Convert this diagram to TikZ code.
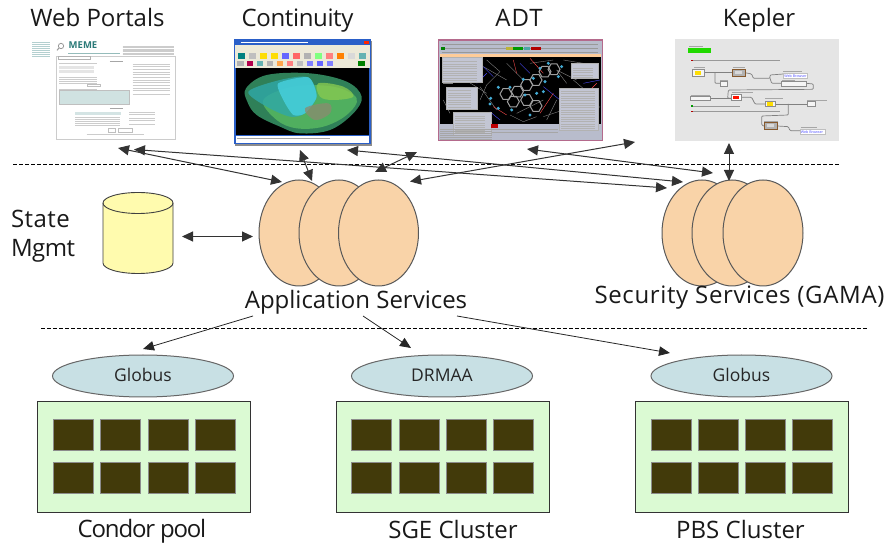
\documentclass[tikz,border=0pt]{standalone}
\usepackage{fontspec}
\setmainfont{Open Sans}
\usetikzlibrary{arrows.meta,shapes.geometric}
\definecolor{peach}{HTML}{F9D3A8}
\definecolor{cream}{HTML}{FFFBAE}
\definecolor{paleblue}{HTML}{C8E0E4}
\definecolor{palegreen}{HTML}{DBFAD3}
\definecolor{darkolive}{HTML}{423A0A}
\definecolor{winblue}{HTML}{2A5FC8}
\definecolor{beige}{HTML}{ECE9D8}
\definecolor{adtgrey}{HTML}{B8BCCC}
\definecolor{adtrose}{HTML}{B46A8C}
\definecolor{keplergrey}{HTML}{E5E5E5}
\definecolor{memeteal}{HTML}{2A7A78}
\definecolor{blobbase}{HTML}{2F8058}
\definecolor{blobgreen}{HTML}{5CBF62}
\definecolor{blobteal}{HTML}{2FA8A8}
\definecolor{blobcyan}{HTML}{46CFDC}
\definecolor{blobgrey}{HTML}{8C8A70}
\definecolor{bloblime}{HTML}{86C850}
\tikzset{
  every node/.style={inner sep=0pt,outer sep=0pt},
  zoomed/.style={x=0.33333pt,y=-0.33333pt},
  biglabel/.style={anchor=base,font=\fontsize{24}{28}\selectfont,text=black!90},
  smalllabel/.style={anchor=base,font=\fontsize{17.5}{20}\selectfont,text=black!85},
  svc/.style={ellipse,draw=black!65,line width=1pt,fill=peach,minimum width=80pt,minimum height=106pt},
  grid/.style={ellipse,draw=black!60,line width=1pt,fill=paleblue,minimum width=181pt,minimum height=42pt},
  farm/.style={rectangle,draw=black!80,line width=.9pt,fill=palegreen,minimum width=213pt,minimum height=111pt},
  cpu/.style={rectangle,draw=black!45,line width=.9pt,fill=darkolive,minimum width=40pt,minimum height=31pt},
  link/.style={draw=black!80,line width=1pt,{Triangle[length=11pt,width=10pt]}-{Triangle[length=11pt,width=10pt]}},
  oneway/.style={draw=black!85,line width=.8pt,-{Triangle[length=11pt,width=9.5pt]}},
  sep/.style={draw=black,line width=.8pt,dash pattern=on 3.5pt off 2.5pt},
  faint/.style={draw=gray!40,line width=.45pt},
  wire/.style={draw=black!50,line width=.7pt,rounded corners=1pt},
  actor/.style={draw=black!45,line width=.6pt},
}
\begin{document}
\begin{tikzpicture}[x=1pt,y=-1pt]
\useasboundingbox (0,0) rectangle (887,545);
\fill[white] (0,0) rectangle (887,545);

% ---------- Web portal screenshot
\begin{scope}[zoomed]
  \foreach \y in {127,133,140,146,152,158,164,169} \draw[draw=memeteal!35,line width=.4pt] (97,\y) -- (150,\y);
  \draw[draw=gray!80,line width=.8pt] (183,138) circle (8);
  \draw[draw=gray!80,line width=1pt] (177,144) -- (171,151);
  \draw[draw=memeteal!50,line width=.5pt] (205,160) -- (360,160);
  \foreach \y in {139,143,147,151,155,159,163} \draw[faint] (368,\y) -- (522,\y);
  \draw[draw=gray!40,line width=.6pt,fill=white] (168,170) rectangle (525,418);
  \draw[draw=gray!60,line width=.5pt,fill=white] (175,168) rectangle (272,178);
  \foreach \y in {190,232,238,244,250,268} \draw[faint] (178,\y) -- (290,\y);
  \fill[gray!20] (178,198) rectangle (282,208);
  \fill[gray!20] (178,210) rectangle (282,218);
  \foreach \y in {192,200,208,216,224,232,240,248,256,264,272,284} \draw[faint] (398,\y) -- (510,\y);
  \draw[draw=gray!50,line width=.4pt] (262,252) rectangle (302,260);
  \fill[memeteal!22] (178,270) rectangle (388,312);
  \draw[draw=gray!50,line width=.4pt] (178,270) rectangle (388,312);
  \draw[draw=gray!70,line width=.5pt] (330,184) -- (368,184);
  \draw[draw=gray!70,line width=.5pt] (330,324) -- (368,324);
  \fill[memeteal!20] (226,335) rectangle (362,345);
  \foreach \y in {352,358,364,370,376} \draw[faint] (226,\y) -- (360,\y);
  \foreach \y in {336,344,354,362,372} \draw[faint] (388,\y) -- (465,\y);
  \draw[draw=gray!50,line width=.4pt] (325,386) rectangle (345,396);
  \draw[draw=gray!50,line width=.4pt] (355,386) rectangle (398,396);
  \draw[faint] (260,403) -- (432,403);
\end{scope}
\node[font=\fontsize{9.5}{10}\bfseries\selectfont,text=memeteal] (meme) at (83,45.5) {MEME};

% ---------- Continuity screenshot
\begin{scope}[zoomed]
  \fill[black!45] (706,124) rectangle (1116,437);
  \fill[winblue] (701,118) rectangle (1113,433);
  \fill[beige] (706,135) rectangle (1109,205);
  \fill[red!70!orange] (1092,122) rectangle (1108,133);
  \draw[draw=white,line width=.5pt] (722,128) -- (925,128);
  \foreach \x/\c in {715/teal,748/gray!50,781/yellow!80!orange,814/yellow!80!orange,847/blue!60,880/red!60,913/gray!60,946/green!50,979/red!50,1012/orange,1045/gray!30,1078/teal!60}
    \fill[\c] (\x,160) rectangle ++(20,18);
  \foreach \x/\c in {712/gray!60,740/red!70!blue,770/teal!60,800/gray!60,830/orange!70,860/red!50,890/gray!50,920/blue!50,950/blue!60,980/blue!50,1075/green!50!black}
    \fill[\c] (\x,184) rectangle ++(20,15);
  \fill[black] (708,205) rectangle (1108,405);
  \fill[white] (708,408) rectangle (1108,430);
  \draw[draw=gray!70,line width=.4pt] (712,414) -- (990,414);
  \fill[blobbase] plot[smooth cycle,tension=.6] coordinates {(738,265) (800,225) (930,220) (1040,245) (1085,290) (1060,340) (990,390) (900,400) (840,380) (770,345) (742,305)};
  \fill[blobgreen,opacity=.75] plot[smooth cycle,tension=.6] coordinates {(790,300) (880,260) (1000,260) (1070,295) (1040,345) (970,380) (890,385) (830,360)};
  \fill[blobteal,opacity=.8] plot[smooth cycle,tension=.5] coordinates {(745,275) (840,240) (925,232) (950,290) (915,340) (870,350) (800,320)};
  \fill[blobcyan,opacity=.85] plot[smooth cycle,tension=.4] coordinates {(835,250) (925,232) (950,290) (915,340) (880,345) (850,300)};
  \fill[blobgrey,opacity=.75] plot[smooth cycle,tension=.6] coordinates {(915,325) (985,310) (990,340) (945,360)};
  \fill[bloblime,opacity=.8] plot[smooth cycle,tension=.6] coordinates {(955,250) (1030,260) (1060,290) (1000,300) (960,290)};
\end{scope}

% ---------- ADT screenshot
\begin{scope}[zoomed,shift={(430pt,0pt)}]
  \fill[adtgrey] (25,118) rectangle (518,422);
  \draw[draw=adtrose,line width=1pt] (25,118) rectangle (518,422);
  \fill[adtrose] (25,118) rectangle (518,124);
  \foreach \y in {133,145,157} \draw[draw=black!40,line width=.4pt] (35,\y) -- (505,\y);
  \fill[green!50!black] (34,140) rectangle (44,150);
  \fill[yellow!70!black] (228,140) rectangle (248,149);
  \fill[green!60!black] (250,140) rectangle (278,149);
  \fill[teal!70] (281,140) rectangle (300,149);
  \fill[red!70!black] (302,140) rectangle (332,149);
  \fill[orange!40] (30,163) rectangle (512,172);
  \fill[black] (30,172) rectangle (512,372);
  \foreach \a/\b/\c/\d/\e in {
    gray/160/200/230/240, gray/230/190/280/240, gray/60/240/120/200, gray/90/230/170/280,
    gray/150/260/200/330, gray/260/340/340/300, gray/340/350/400/330, gray/300/190/370/180,
    gray/430/240/500/300, gray/400/180/460/190, blue!70/160/200/190/230, blue!70/140/250/170/220,
    blue!70/340/260/390/300, blue!70/460/250/510/240, red!70/300/175/340/220, red!70/330/340/370/280,
    red!70/190/320/230/345, red!70/500/250/460/290, blue!70/180/335/210/360, gray/380/300/350/360,
    gray/170/180/210/215, gray/210/215/170/255, gray/170/255/150/300, gray/240/345/280/365,
    gray/280/365/320/350, gray/410/250/380/210, gray/380/210/440/240, gray/60/340/40/300,
    gray/40/250/70/250, gray/480/340/510/320, red!70/250/180/260/220, blue!70/270/190/300/220}
    \draw[draw=\a,line width=.4pt] (\b,\c) -- (\d,\e);
  \foreach \cx/\cy in {228/282,262/275,250/305,290/300,318/318,345/215,372/208,318/240,290/255}
    \draw[draw=gray!75,line width=1pt] (\cx+18,\cy) -- ++(-9,16) -- ++(-18,0) -- ++(-9,-16) -- ++(9,-16) -- ++(18,0) -- cycle;
  \foreach \p in {(205,262),(240,262),(205,325),(182,295),(180,312),(245,330),(280,238),(310,235),(330,205),(355,190),(395,200),(385,230),(345,245),(320,280),(285,285),(300,345),(340,275)}
    \fill[cyan!70!gray] \p circle (5);
  \foreach \xa/\ya/\xb/\yb in {35/172/155/245, 48/260/142/328, 70/337/183/405, 422/190/505/235, 388/263/505/390}
    {\fill[adtgrey!85!white] (\xa,\ya) rectangle (\xb,\yb);
     \draw[draw=gray!60,line width=.3pt] (\xa,\ya) rectangle (\xb,\yb);}
  \foreach \y in {185,192,199,206,213,220,227,234,241} \draw[draw=black!30,line width=.35pt] (40,\y) -- (140,\y);
  \foreach \y in {272,279,286,293,300,307,314,321} \draw[draw=black!30,line width=.35pt] (54,\y) -- (122,\y);
  \foreach \y in {348,355,362,369,376,383,390,397} \draw[draw=black!30,line width=.35pt] (76,\y) -- (165,\y);
  \foreach \y in {204,211,218,225,231} \draw[draw=black!30,line width=.35pt] (428,\y) -- (490,\y);
  \foreach \y in {274,281,288,295,302,309,316,323,330,337,344,351,358,365,372,379,386} \draw[draw=black!30,line width=.35pt] (393,\y) -- (495,\y);
  \fill[red!75!black] (184,372) rectangle (204,384);
  \foreach \y in {388,394,400,406,412,418} \draw[draw=black!35,line width=.35pt] (30,\y) -- (185,\y);
  \foreach \y in {388,396} \draw[draw=black!35,line width=.35pt] (186,\y) -- (385,\y);
\end{scope}

% ---------- Kepler screenshot
\begin{scope}[zoomed,shift={(430pt,0pt)}]
  \fill[keplergrey] (734,118) rectangle (1227,422);
  \draw[draw=gray!70,line width=.4pt] (778,140) -- (818,140);
  \fill[green!80!lime!85!black] (775,145) rectangle (842,160);
  \fill[red!70!black] (783,180) rectangle (788,184);
  \draw[draw=gray!80,line width=.4pt] (790,182) -- (1050,182);
  \fill[green!60!black] (783,316) rectangle (788,320);
  \draw[draw=gray!80,line width=.4pt] (790,318) -- (930,318);
  \fill[red!70!black] (783,333) rectangle (788,337);
  \draw[draw=gray!80,line width=.4pt] (790,335) -- (1050,335);
  \draw[wire] (822,218) -- (905,218);
  \draw[wire] (855,218) -- (855,250) -- (870,250);
  \draw[wire] (945,218) -- (965,222) -- (970,235) -- (1020,235) -- (1020,225) -- (1060,222);
  \draw[wire] (1020,235) -- (1025,250) -- (1055,250);
  \draw[wire] (1130,250) -- (1150,252) -- (1150,268) -- (895,270) -- (893,295) -- (905,295);
  \draw[wire] (840,296) -- (905,296);
  \draw[wire] (933,292) -- (965,292) -- (975,312) -- (1005,312);
  \draw[wire] (1035,312) -- (1132,312);
  \draw[wire] (1075,312) -- (1075,345) -- (995,348) -- (995,375) -- (1002,378);
  \draw[wire] (1042,378) -- (1075,380) -- (1080,392) -- (1110,392);
  \foreach \xa/\ya/\xb/\yb in {788/208/822/230, 870/245/893/258, 1055/245/1130/258, 1132/305/1155/318, 780/290/840/302, 1005/303/1035/320}
    \draw[actor,fill=white!92!gray] (\xa,\ya) rectangle (\xb,\yb);
  \foreach \xa/\ya/\xb/\yb in {906/208/945/228, 1002/368/1042/387}
    {\draw[draw=brown!70!black,line width=.7pt,fill=gray!60] (\xa,\ya) rectangle (\xb,\yb);
     \fill[gray!30] (\xa+10,\ya+5) rectangle (\xb-10,\yb-5);}
  \draw[actor,fill=white] (905,283) rectangle (933,302);
  \fill[red!85!orange] (910,287) rectangle (928,298);
  \fill[yellow!80!orange] (796,213) rectangle (814,224);
  \fill[yellow!80!orange] (1011,307) rectangle (1030,317);
  \foreach \xa/\xb/\y in {792/825/203, 908/945/203, 870/893/241, 1060/1115/214, 1057/1095/241, 782/840/285, 905/970/277, 1005/1060/296, 1132/1190/300, 1002/1045/363, 1112/1160/383}
    \draw[draw=gray!70,line width=.4pt] (\xa,\y) -- (\xb,\y);
  \draw[draw=gray!50,line width=.4pt,fill=white] (1060,220) rectangle (1132,235);
  \draw[draw=gray!50,line width=.4pt,fill=white] (1110,388) rectangle (1185,403);
\end{scope}
\node[font=\fontsize{3.6}{4}\selectfont,text=blue!70] (kweb1) at (795.5,75.8) {Web Browser};
\node[font=\fontsize{3.6}{4}\selectfont,text=blue!70] (kweb2) at (812,132) {Web Browser};

% ---------- separators
\coordinate (sepA1) at (13,164.5); \coordinate (sepA2) at (840,164.5);
\coordinate (sepB1) at (41,328.5); \coordinate (sepB2) at (867,328.5);
\draw[sep] (sepA1) -- (sepA2);
\draw[sep,line width=.6pt] (sepB1) -- (sepB2);

% ---------- state store (cylinder); y axis points down, so arcs run the other way
\filldraw[fill=cream,draw=black!75,line width=.9pt]
  (103,203) -- (103,263) arc[start angle=180,end angle=0,x radius=35,y radius=10.5]
  -- (173,203) arc[start angle=0,end angle=-180,x radius=35,y radius=10.5] -- cycle;
\draw[draw=black!75,line width=.9pt] (103,203) arc[start angle=180,end angle=0,x radius=35,y radius=10.5];
\node (db) at (138,233) [minimum width=70pt,minimum height=80pt] {};

% ---------- services
\node[svc] (as1) at (299,233) {};
\node[svc] (as2) at (339,233) {};
\node[svc] (as3) at (378.5,233) {};
\node[svc] (ss1) at (702,233) {};
\node[svc] (ss2) at (732,233) {};
\node[svc] (ss3) at (763,233) {};

% ---------- clusters
\foreach \n/\ex/\bx/\lbl/\xa/\xb/\xc/\xd in {
  a/143/143.5/Globus/73/120/168/215,
  b/442/442.5/DRMAA/371.5/419/466/513.5,
  c/741.5/742/Globus/671/718/765/812.5}{
  \node[grid] (e\n) at (\ex,376) {};
  \node[smalllabel] (t\n) at (\ex,382) {\lbl};
  \node[farm] (f\n) at (\bx,456.5) {};
  \foreach \i/\x in {1/\xa,2/\xb,3/\xc,4/\xd}{
    \node[cpu] (u\n\i) at (\x,434.5) {};
    \node[cpu] (v\n\i) at (\x,478) {};
  }
}

% ---------- labels
\node[biglabel] (lweb) at (97.5,27) {Web Portals};
\node[biglabel] (lcont) at (297.5,27) {\addfontfeature{LetterSpace=-1.5}Continuity};
\node[biglabel] (ladt) at (519,27) {\addfontfeature{LetterSpace=4}ADT};
\node[biglabel] (lkep) at (759,27) {Kepler};
\node[biglabel,anchor=base west] (lstate) at (11,228) {\addfontfeature{LetterSpace=2}State};
\node[biglabel,anchor=base west] (lmgmt) at (11,257) {\addfontfeature{LetterSpace=-2}Mgmt};
\node[biglabel] (lapp) at (356,309) {Application Services};
\node[biglabel] (lsec) at (739.5,304) {\addfontfeature{LetterSpace=2.7}Security Services (GAMA)};
\node[biglabel] (lcond) at (142,537) {\addfontfeature{LetterSpace=-5}Condor pool};
\node[biglabel] (lsge) at (453,538) {SGE Cluster};
\node[biglabel] (lpbs) at (740.5,538) {PBS Cluster};

% ---------- connector ends
\coordinate (p1) at (118,148);   \coordinate (q1) at (282,182);
\coordinate (p2) at (134,149.5); \coordinate (q2) at (667,188);
\coordinate (p3) at (347,150);   \coordinate (q3) at (683,182);
\coordinate (p4) at (300,150);   \coordinate (q4) at (312,181);
\coordinate (p5) at (417,152);   \coordinate (q5) at (375,172);
\coordinate (p6) at (410,181.5); \coordinate (q6) at (635,142);
\coordinate (p7) at (527,149);   \coordinate (q7) at (713,173);
\coordinate (p8) at (729,143);   \coordinate (q8) at (729,181);
\coordinate (p9) at (182,236.5); \coordinate (q9) at (253,236.5);
\coordinate (r1) at (253,316);   \coordinate (s1) at (143,349);
\coordinate (r2) at (363,316);   \coordinate (s2) at (411,348);
\coordinate (r3) at (457,316);   \coordinate (s3) at (670,353);
\foreach \i in {1,...,9} \draw[link] (p\i) -- (q\i);
\foreach \i in {1,2,3} \draw[oneway] (r\i) -- (s\i);
\end{tikzpicture}
\end{document}
